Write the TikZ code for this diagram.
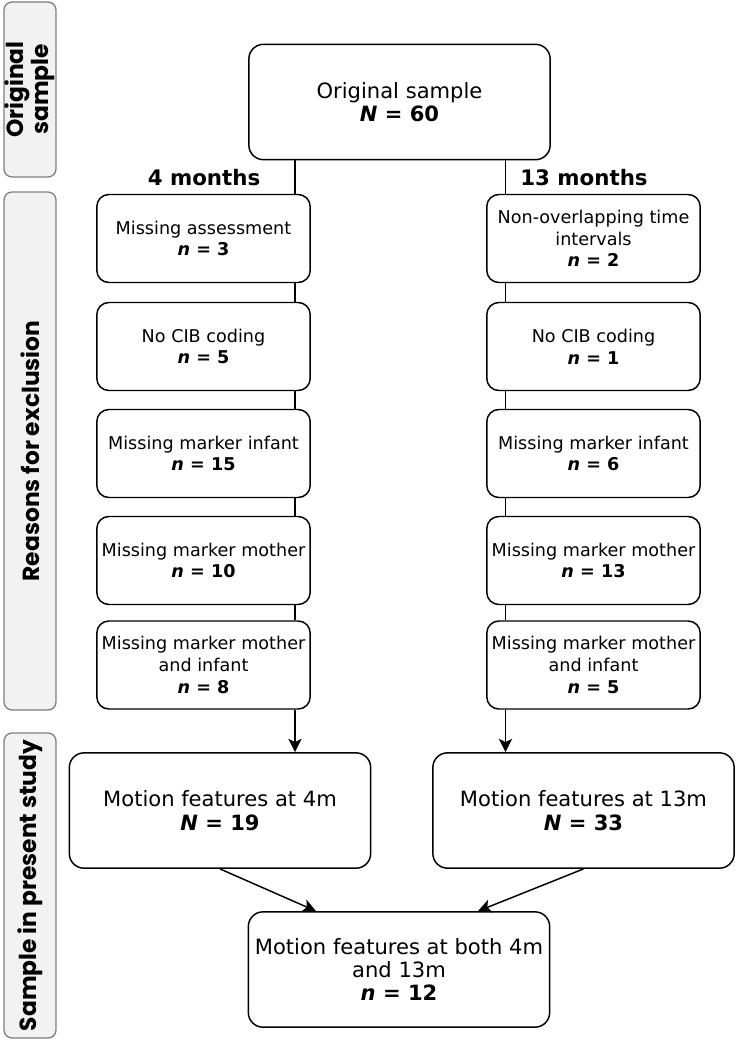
\documentclass[tikz,border=0pt]{standalone}
\usepackage{fontspec}
\setmainfont{DejaVu Sans}
\newfontfamily\sidefont{Poppins}
\usetikzlibrary{arrows.meta,positioning}
\definecolor{sidefill}{RGB}{242,242,242}
\definecolor{sidedraw}{RGB}{128,128,128}
\tikzset{
  flow/.style={x=0.75pt,y=-0.75pt,>={Stealth[length=10pt,width=10pt,inset=2.5pt]}},
  stage/.style={draw,line width=1.1pt,rounded corners=9pt,align=center,inner sep=2pt,minimum width=160pt,minimum height=66pt,font=\fontsize{13.2}{16.3}\selectfont},
  bigstage/.style={stage,rounded corners=11pt,minimum width=226pt,minimum height=86.5pt,font=\fontsize{15.8}{17.5}\selectfont},
  sidebox/.style={draw=sidedraw,fill=sidefill,line width=1pt,rounded corners=6pt,rotate=90,minimum height=39pt,align=center,inner sep=0pt,font=\sidefont\bfseries\fontsize{17.5}{17.5}\selectfont},
  heading/.style={font=\bfseries\fontsize{16}{18}\selectfont},
  link/.style={line width=1.1pt},
  arrow/.style={link,->},
}
\newcommand{\cnt}[2]{\textbf{\textit{#1} = #2}}

\begin{document}
\begin{tikzpicture}[flow]
\useasboundingbox (0,0) rectangle (737,1042);
% side labels
\node[sidebox,minimum width=131.25pt] (sorig) at (30,89.5) {Original\\sample};
\node[sidebox,minimum width=388.5pt] (sexcl) at (30,451) {Reasons for exclusion};
\node[sidebox,minimum width=228.75pt] (sstudy) at (30,885.5) {Sample in present study};

\node[bigstage] (orig) at (399.5,102) {Original sample\\\cnt{N}{60}};
\node[heading] (h4) at (204,178) {4 months};
\node[heading] (h13) at (584,178) {13 months};

% 4 months
\node[stage] (a1) at (203.5,238.5) {Missing assessment\\\cnt{n}{3}};
\node[stage] (a2) at (203.5,346.5) {No CIB coding\\\cnt{n}{5}};
\node[stage] (a3) at (203.5,453.5) {Missing marker infant\\\cnt{n}{15}};
\node[stage] (a4) at (203.5,560.5) {Missing marker mother\\\cnt{n}{10}};
\node[stage] (a5) at (203.5,665) {Missing marker mother\\and infant\\\cnt{n}{8}};
% 13 months
\node[stage] (b1) at (593.5,238.5) {Non-overlapping time\\intervals\\\cnt{n}{2}};
\node[stage] (b2) at (593.5,346.5) {No CIB coding\\\cnt{n}{1}};
\node[stage] (b3) at (593.5,453.5) {Missing marker infant\\\cnt{n}{6}};
\node[stage] (b4) at (593.5,560.5) {Missing marker mother\\\cnt{n}{13}};
\node[stage] (b5) at (593.5,665) {Missing marker mother\\and infant\\\cnt{n}{5}};

\node[bigstage] (m4) at (220,810.5) {Motion features at 4m\\\cnt{N}{19}};
\node[bigstage] (m13) at (583.5,810.5) {Motion features at 13m\\\cnt{N}{33}};
\node[bigstage] (both) at (399,969.5) {Motion features at both 4m\\and 13m\\\cnt{n}{12}};

% connectors
\coordinate (lx) at (295,0);
\coordinate (rx) at (505.5,0);
\coordinate (bl) at (316,0);
\coordinate (br) at (478,0);
\draw[link] (orig.south -| lx) -- (a1.north -| lx);
\draw[link] (orig.south -| rx) -- (b1.north -| rx);
\foreach \i/\j in {1/2,2/3,3/4,4/5} {
  \draw[link] (a\i.south -| lx) -- (a\j.north -| lx);
  \draw[link] (b\i.south -| rx) -- (b\j.north -| rx);
}
\draw[arrow] (a5.south -| lx) -- (m4.north -| lx);
\draw[arrow] (b5.south -| rx) -- (m13.north -| rx);
\draw[arrow] (m4.south) -- (both.north -| bl);
\draw[arrow] (m13.south) -- (both.north -| br);
\end{tikzpicture}
\end{document}
